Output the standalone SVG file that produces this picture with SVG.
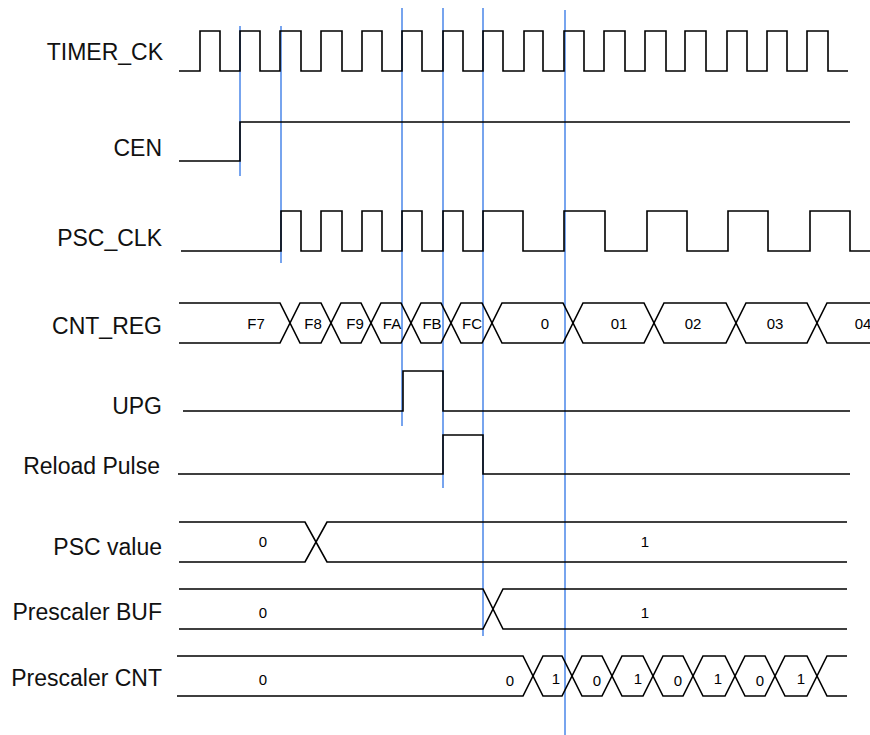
<svg xmlns="http://www.w3.org/2000/svg" width="870" height="735" viewBox="0 0 870 735">
<style>
.bg{fill:#ffffff}
.mark{stroke:#4a86e8;stroke-width:1.5;fill:none}
.sig{stroke:#000000;stroke-width:1.6;fill:none;stroke-linejoin:miter}
.lbl{font-family:"Liberation Sans",Arial,sans-serif;font-size:23px;fill:#111;text-anchor:end}
.val{font-family:"Liberation Sans",Arial,sans-serif;font-size:15px;fill:#000;text-anchor:middle}
</style>
<rect class="bg" x="0" y="0" width="870" height="735"/>
<g id="markers">
<line class="mark" x1="240" y1="26" x2="240" y2="176"/>
<line class="mark" x1="281" y1="26" x2="281" y2="263"/>
<line class="mark" x1="402" y1="8" x2="402" y2="426"/>
<line class="mark" x1="443" y1="8" x2="443" y2="488"/>
<line class="mark" x1="483" y1="8" x2="483" y2="636"/>
<line class="mark" x1="565" y1="10" x2="565" y2="735"/>
</g>
<g id="timer_ck">
<text class="lbl" x="163" y="60">TIMER_CK</text>
<path class="sig" d="M179,71 H200 V31 H220 V71 H240 V31 H260 V71 H280 V31 H301 V71 H321 V31 H342 V71 H362 V31 H382 V71 H402 V31 H422 V71 H443 V31 H463 V71 H483 V31 H503 V71 H524 V31 H543 V71 H564 V31 H584 V71 H604 V31 H625 V71 H645 V31 H666 V71 H685 V31 H706 V71 H727 V31 H747 V71 H767 V31 H787 V71 H807 V31 H828 V71 H848"/>
</g>
<g id="cen">
<text class="lbl" x="162" y="156">CEN</text>
<path class="sig" d="M179,161 H240 V122 H850"/>
</g>
<g id="psc_clk">
<text class="lbl" x="162" y="246">PSC_CLK</text>
<path class="sig" d="M181,251 H281 V211 H301 V251 H321 V211 H342 V251 H362 V211 H382 V251 H402 V211 H422 V251 H443 V211 H463 V251 H483 V211 H523 V251 H564 V211 H605 V251 H647 V211 H687 V251 H728 V211 H768 V251 H810 V211 H850 V251 H870"/>
</g>
<g id="cnt_reg">
<text class="lbl" x="162" y="334">CNT_REG</text>
<path class="sig" d="M179,303 H280 L300,343 H321 L341,303 H361 L381,343 H401 L421,303 H441 L461,343 H482 L502,303 H563 L583,343 H644 L664,303 H726 L746,343 H807 L827,303 H870"/>
<path class="sig" d="M179,343 H280 L300,303 H321 L341,343 H361 L381,303 H401 L421,343 H441 L461,303 H482 L502,343 H563 L583,303 H644 L664,343 H726 L746,303 H807 L827,343 H870"/>
<text class="val" x="256" y="329">F7</text>
<text class="val" x="313" y="329">F8</text>
<text class="val" x="355" y="329">F9</text>
<text class="val" x="392" y="329">FA</text>
<text class="val" x="432" y="329">FB</text>
<text class="val" x="472" y="329">FC</text>
<text class="val" x="545" y="329">0</text>
<text class="val" x="619" y="329">01</text>
<text class="val" x="693" y="329">02</text>
<text class="val" x="775" y="329">03</text>
<text class="val" x="863" y="329">04</text>
</g>
<g id="upg">
<text class="lbl" x="162" y="414">UPG</text>
<path class="sig" d="M183,411 H403 V371 H443 V411 H850"/>
</g>
<g id="reload_pulse">
<text class="lbl" x="160" y="474">Reload Pulse</text>
<path class="sig" d="M178,474 H443 V435 H483 V474 H850"/>
</g>
<g id="psc_value">
<text class="lbl" x="162" y="555">PSC value</text>
<path class="sig" d="M179,522 H305 L327,562 H847"/>
<path class="sig" d="M179,562 H305 L327,522 H847"/>
<text class="val" x="263" y="547">0</text>
<text class="val" x="645" y="547">1</text>
</g>
<g id="prescaler_buf">
<text class="lbl" x="162" y="620">Prescaler BUF</text>
<path class="sig" d="M179,589 H483 L503,629 H847"/>
<path class="sig" d="M179,629 H483 L503,589 H847"/>
<text class="val" x="263" y="618">0</text>
<text class="val" x="645" y="618">1</text>
</g>
<g id="prescaler_cnt">
<text class="lbl" x="162" y="686">Prescaler CNT</text>
<path class="sig" d="M177,656 H523 L543,696 H562 L582,656 H602 L622,696 H643 L663,656 H683 L703,696 H725 L745,656 H765 L785,696 H807 L827,656 H847"/>
<path class="sig" d="M177,696 H523 L543,656 H562 L582,696 H602 L622,656 H643 L663,696 H683 L703,656 H725 L745,696 H765 L785,656 H807 L827,696 H847"/>
<text class="val" x="263" y="685">0</text>
<text class="val" x="510" y="686">0</text>
<text class="val" x="556" y="684">1</text>
<text class="val" x="597" y="686">0</text>
<text class="val" x="638" y="684">1</text>
<text class="val" x="678" y="686">0</text>
<text class="val" x="718" y="684">1</text>
<text class="val" x="760" y="686">0</text>
<text class="val" x="801" y="684">1</text>
</g>
</svg>
